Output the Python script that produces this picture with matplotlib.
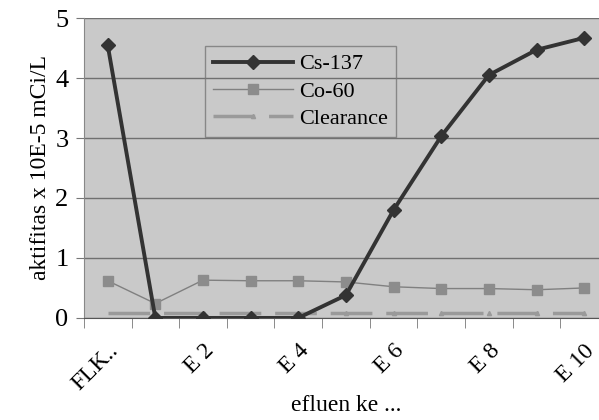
import numpy as np
import matplotlib.pyplot as plt

categories = ["FLK..", "E 1", "E 2", "E 3", "E 4", "E 5", "E 6", "E 7", "E 8", "E 9", "E 10"]
shown_labels = ["FLK..", "", "E 2", "", "E 4", "", "E 6", "", "E 8", "", "E 10"]
cs137 = [4.55, 0.0, 0.0, 0.0, 0.0, 0.38, 1.8, 3.03, 4.05, 4.47, 4.67]
co60 = [0.62, 0.24, 0.63, 0.62, 0.62, 0.60, 0.52, 0.49, 0.49, 0.47, 0.50]
clearance = [0.08] * 11

plt.rcParams['font.family'] = ['Liberation Serif', 'DejaVu Serif']

fig = plt.figure(figsize=(5.99, 4.2), dpi=100)
ax = fig.add_axes([0.140, 0.243, 0.875, 0.714])
ax.set_facecolor("#c9c9c9")

x = np.arange(len(categories))
ax.plot(x, clearance, color="#9a9a9a", linewidth=2.5, dashes=(12, 4),
        marker="^", markersize=3, markevery=list(range(5, 11)), label="Clearance", zorder=2)
ax.plot(x, co60, color="#808080", linewidth=1, marker="s", markersize=7,
        markerfacecolor="#8c8c8c", markeredgecolor="#8c8c8c", label="Co-60", zorder=3)
ax.plot(x, cs137, color="#333333", linewidth=2.8, marker="D", markersize=7,
        label="Cs-137", zorder=4)

ax.set_xlim(-0.5, 10.5)
ax.set_ylim(0, 5)
ax.set_yticks([0, 1, 2, 3, 4, 5])
ax.yaxis.grid(True, color="#707070", linewidth=1)
ax.set_axisbelow(True)

ax.set_xticks(x)
ax.set_xticklabels(shown_labels, rotation=45, ha="right", rotation_mode="anchor", fontsize=17)
ax.tick_params(axis="x", length=0, pad=16)
ax.set_xticks(np.arange(-0.5, 11, 1), minor=True)
ax.tick_params(axis="x", which="minor", length=7, color="#777777", direction="out")
ax.tick_params(axis="y", labelsize=19, length=6, color="#777777", pad=5)

for s in ["top", "right"]:
    ax.spines[s].set_visible(False)
ax.spines["left"].set_color("#888888")
ax.spines["bottom"].set_color("#555555")

ax.set_ylabel("aktifitas x 10E-5 mCi/L", fontsize=17, labelpad=3)
ax.set_xlabel("efluen ke ...", fontsize=17, labelpad=0)

handles, labels = ax.get_legend_handles_labels()
leg = ax.legend(handles[::-1], labels[::-1], loc="upper left", bbox_to_anchor=(0.231, 0.907),
                borderaxespad=0, fontsize=16, frameon=True, fancybox=False, facecolor="none",
                edgecolor="#777777", handlelength=3.6, borderpad=0.35, labelspacing=0.3,
                handletextpad=0.3)
leg.get_frame().set_linewidth(1)

fig.savefig("out.png", dpi=100)
